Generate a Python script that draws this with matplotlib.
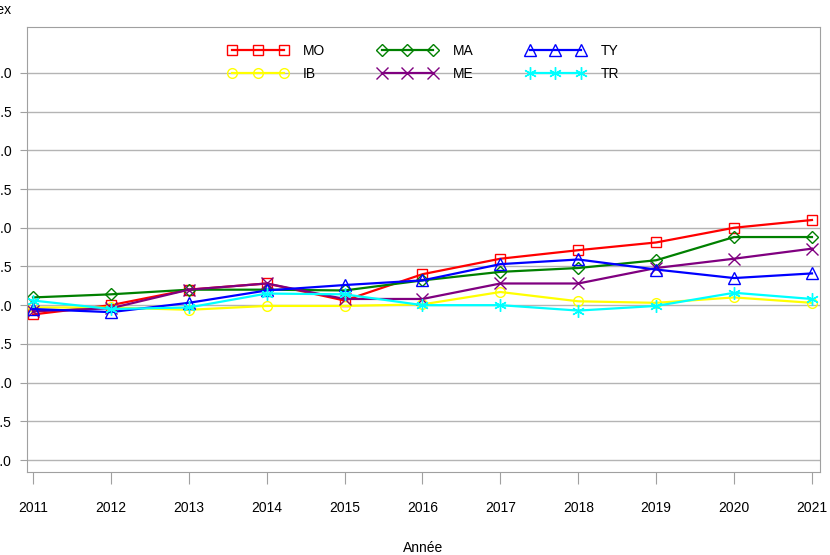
import numpy as np
from matplotlib import pyplot as plt

plt.rc('font', family=['Liberation Sans', 'DejaVu Sans'], size=10)

years = [2011, 2012, 2013, 2014, 2015, 2016, 2017, 2018, 2019, 2020, 2021]
mo = [99.88, 100.00, 100.20, 100.28, 100.06, 100.40, 100.60, 100.71, 100.81, 101.00, 101.10]
ib = [99.97, 99.97, 99.94, 99.99, 99.99, 100.01, 100.17, 100.05, 100.03, 100.10, 100.03]
ma = [100.10, 100.14, 100.20, 100.20, 100.19, 100.32, 100.43, 100.48, 100.58, 100.88, 100.88]
me = [99.92, 99.96, 100.20, 100.28, 100.08, 100.08, 100.28, 100.28, 100.48, 100.60, 100.73]
ty = [99.95, 99.91, 100.03, 100.19, 100.26, 100.32, 100.53, 100.59, 100.46, 100.35, 100.41]
tr = [100.06, 99.95, 99.97, 100.15, 100.14, 100.00, 100.00, 99.93, 99.99, 100.16, 100.08]

series = [
    ('MO', mo, '#ff0000', 's', 7),
    ('IB', ib, '#ffff00', 'o', 7),
    ('MA', ma, '#008000', 'D', 6),
    ('ME', me, '#800080', 'x', 8),
    ('TY', ty, '#0000ff', '^', 8),
    ('TR', tr, '#00ffff', (6, 2, 0), 9),
]

fig = plt.figure(figsize=(8.3, 5.55), dpi=100)
ax = fig.add_axes([27/830, 83/555, 793/830, 445/555])

for y in np.arange(98.0, 103.01, 0.5):
    ax.axhline(y, color='#b4b4b4', lw=1.0, zorder=0)

for name, vals, col, mk, ms in series:
    ax.plot(years, vals, color=col, lw=1.6, marker=mk, markersize=ms,
            markerfacecolor='none', markeredgecolor=col, markeredgewidth=1.0,
            label=name)

ax.set_xlim(2010.923, 2021.103)
ax.set_ylim(97.845, 103.593)
ax.set_xticks(years)
ax.set_yticks(np.arange(98.0, 103.01, 0.5))
ax.set_yticklabels([f'{v:.1f}' for v in np.arange(98.0, 103.01, 0.5)])

for s in ax.spines.values():
    s.set_color('#a0a0a0')
ax.tick_params(axis='x', direction='out', length=8.6, color='#a0a0a0', pad=12)
ax.tick_params(axis='y', direction='out', length=5, color='#a0a0a0', pad=6)
ax.tick_params(labelsize=10)

ax.set_xlabel('Année', labelpad=19)
fig.text(12/830, 1 - 10/555, 'Index', ha='right', va='center', fontsize=10)

ax.legend(ncol=3, loc='upper center', bbox_to_anchor=(0.5, 0.99), frameon=False,
          numpoints=3, handlelength=4.3, handletextpad=1.1, columnspacing=3.75,
          labelspacing=0.65, fontsize=10)

plt.savefig('out.png', dpi=100)
